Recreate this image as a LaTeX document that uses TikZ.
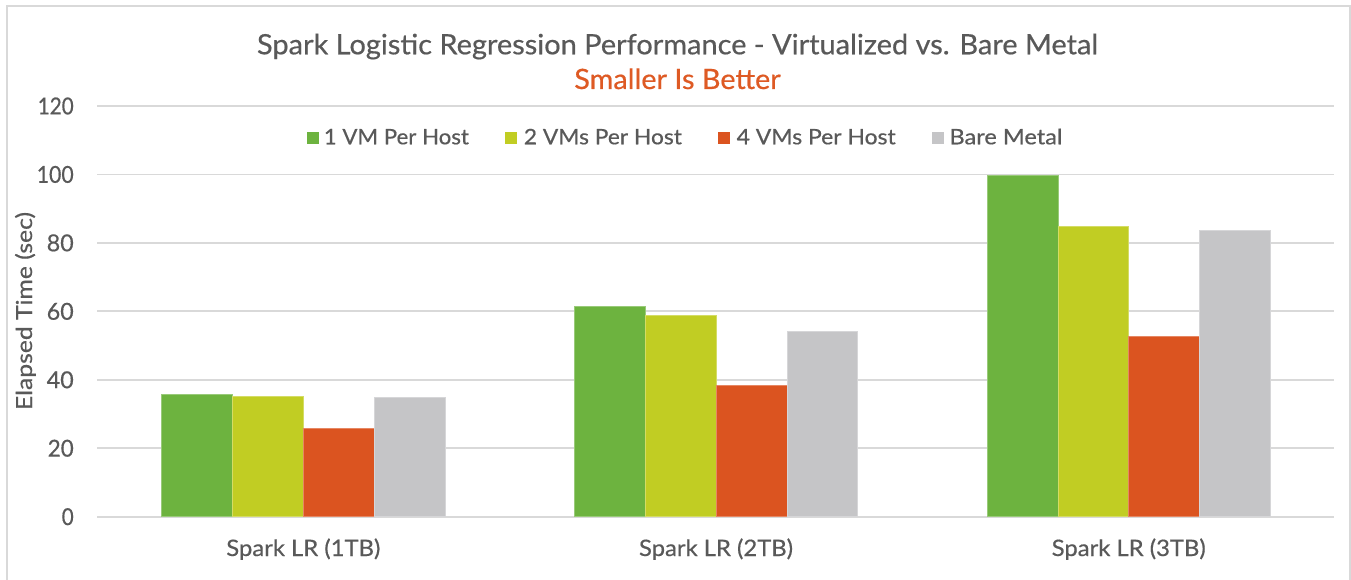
\documentclass[tikz,border=0pt]{standalone}
\usepackage{fontspec}
\setmainfont{Lato}[FakeBold=0.5]
\usepackage{graphicx}
\definecolor{txt}{HTML}{595959}
\definecolor{gridc}{HTML}{D9D9D9}
\definecolor{cgreen}{HTML}{6DB33F}
\definecolor{cyellow}{HTML}{C1CD23}
\definecolor{corange}{HTML}{DB5420}
\definecolor{cgray}{HTML}{C5C5C7}
\definecolor{csub}{HTML}{DE5A24}
\newlength\pxu
\setlength\pxu{0.75pt}
\newcommand\fitw[2]{\resizebox{#1\pxu}{\height}{#2}}
\tikzset{
  gridline/.style={draw=gridc, line width=1.3pt},
  frameline/.style={draw=gridc, line width=1.5pt},
  tick/.style={anchor=east, inner sep=0pt, text=txt, font=\fontsize{17.5}{20}\selectfont},
  legtext/.style={anchor=base west, inner sep=0pt, text=txt, font=\fontsize{16}{19}\selectfont},
  cattext/.style={anchor=base, inner sep=0pt, text=txt, font=\fontsize{17}{20}\selectfont},
  bar/.style={line width=0.4pt},
}
\begin{document}
\begin{tikzpicture}[x=0.75pt,y=-0.75pt]
\useasboundingbox (0,0) rectangle (1351,580);
\fill[white] (0,0) rectangle (1351,580);
\draw[frameline] (6.5,590) -- (6.5,6.5) -- (1349.5,6.5) -- (1349.5,590);
% grid and ticks
\foreach \v/\w in {0/12,20/26,40/27,60/27,80/27,100/37,120/36}{
  \pgfmathsetmacro\yy{516.7-3.4225*\v}
  \draw[gridline] (97,\yy) -- (1334,\yy);
  \node[tick] (t\v) at (74,\yy) {\fitw{\w}{\v}};
}
% bars
\foreach \c/\a/\b/\o/\d [count=\i] in {303.3/35.9/35.05/25.7/34.9, 716/61.5/59/38.3/54.2, 1128.7/99.9/84.9/52.6/83.7}{
  \pgfmathsetmacro\xa{\c-141.6}
  \pgfmathsetmacro\xb{\c-70.8}
  \pgfmathsetmacro\xc{\c}
  \pgfmathsetmacro\xd{\c+70.8}
  \pgfmathsetmacro\xe{\c+141.6}
  \filldraw[bar, fill=cgreen, draw=cgreen!70!white] (\xa,516.7) rectangle (\xb,{516.7-3.4225*\a});
  \filldraw[bar, fill=cyellow, draw=cyellow!70!white] (\xb,516.7) rectangle (\xc,{516.7-3.4225*\b});
  \filldraw[bar, fill=corange, draw=corange!70!white] (\xc,516.7) rectangle (\xd,{516.7-3.4225*\o});
  \filldraw[bar, fill=cgray, draw=cgray!70!white] (\xd,516.7) rectangle (\xe,{516.7-3.4225*\d});
}
% category labels
\node[cattext] (c1) at (303.3,556) {\fitw{154}{Spark LR (1TB)}};
\node[cattext] (c2) at (716,556) {\fitw{154}{Spark LR (2TB)}};
\node[cattext] (c3) at (1128.7,556) {\fitw{154}{Spark LR (3TB)}};
% title
\node[anchor=base, inner sep=0pt, text=txt, font=\fontsize{21}{25}\selectfont] (title) at (677.5,54.3) {\fitw{841}{Spark Logistic Regression Performance - Virtualized vs. Bare Metal}};
\node[anchor=base, inner sep=0pt, text=csub, font=\fontsize{21}{25}\selectfont] (sub) at (677.5,89) {\fitw{206.4}{Smaller Is Better}};
% y axis title
\node[anchor=base, inner sep=0pt, rotate=90, text=txt, font=\fontsize{16.5}{19}\selectfont] (ytitle) at (32,311) {\fitw{198}{Elapsed Time (sec)}};
% legend
\fill[cgreen] (306.5,131.7) rectangle (318.8,144);
\node[legtext] (l1) at (323.6,144.3) {\fitw{145}{1 VM Per Host}};
\fill[cyellow] (504.5,131.7) rectangle (516.8,144);
\node[legtext] (l2) at (523.6,144.3) {\fitw{158}{2 VMs Per Host}};
\fill[corange] (717.6,131.7) rectangle (729.9,144);
\node[legtext] (l3) at (736.4,144.3) {\fitw{159}{4 VMs Per Host}};
\fill[cgray] (931.5,131.7) rectangle (943.8,144);
\node[legtext] (l4) at (949.2,144.3) {\fitw{113}{Bare Metal}};
\end{tikzpicture}
\end{document}
